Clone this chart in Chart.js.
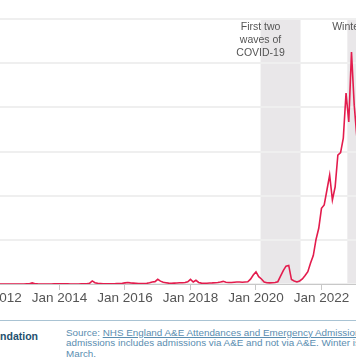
<!DOCTYPE html>
<html><head><meta charset="utf-8">
<script src="https://cdn.jsdelivr.net/npm/chart.js@4/dist/chart.umd.min.js"></script>
<style>
html,body{margin:0;padding:0;background:#fff;width:356px;height:364px;overflow:hidden;position:relative;font-family:"Liberation Sans",Arial,sans-serif}
#wrap{position:absolute;left:-60px;top:0;width:460px;height:310px}
#sep{position:absolute;left:0;top:320px;width:356px;height:1px;background:#a9c3d3}
#brand{position:absolute;right:318px;top:330px;font-weight:bold;font-size:10.5px;line-height:12px;color:#23506e;white-space:nowrap}
#src{position:absolute;left:66px;top:327.5px;font-size:9.85px;line-height:10.5px;color:#5a8db0;white-space:nowrap}
#src u{text-decoration:underline}
</style></head>
<body>
<div id="wrap"><canvas id="c" width="460" height="310"></canvas></div>
<div id="sep"></div>
<div id="brand">The Health Foundation</div>
<div id="src">Source: <u>NHS England A&amp;E Attendances and Emergency Admissions</u>. Emergency<br>admissions includes admissions via A&amp;E and not via A&amp;E. Winter is defined as November to<br>March.</div>
<script>
// Monthly series, Jan 2011 – Mar 2023
const startYear = 2011;
const v2011 = [10, 5, 10, 5, 0, 0, 0, 0, 0, 0, 5, 10];
const v2012 = [20, 10, 15, 5, 5, 0, 0, 0, 0, 5, 10, 15];
const v2013 = [40, 60, 250, 60, 20, 10, 5, 5, 5, 10, 20, 40];
const v2014 = [30, 40, 40, 20, 10, 5, 10, 10, 20, 40, 60, 150];
const v2015 = [700, 300, 150, 100, 40, 20, 40, 50, 70, 100, 90, 160];
const v2016 = [250, 330, 250, 200, 150, 100, 90, 110, 150, 280, 450, 530];
const v2017 = [1050, 650, 380, 300, 200, 150, 200, 230, 270, 300, 350, 500];
const v2018 = [1060, 450, 840, 350, 200, 150, 180, 220, 250, 300, 350, 450];
const v2019 = [600, 400, 350, 350, 400, 450, 450, 400, 450, 500, 1100, 2050];
const v2020 = [2750, 1650, 1130, 450, 300, 250, 300, 350, 520, 1770, 3050, 4050];
const v2021 = [4200, 1000, 680, 450, 680, 1130, 1920, 2790, 4750, 6450, 10080, 12610];
const v2022 = [17140, 17890, 21280, 24680, 19020, 21960, 29200, 29730, 33050, 43240, 36680, 52500];
const v2023 = [40500, 33000, 37000];
const values = [].concat(v2011, v2012, v2013, v2014, v2015, v2016, v2017, v2018, v2019, v2020, v2021, v2022, v2023);

const monthLabels = values.map((_, i) => {
  const y = startYear + Math.floor(i / 12), m = (i % 12) + 1;
  return y + '-' + String(m).padStart(2, '0');
});
const toYear = s => { const [y, m] = s.split('-').map(Number); return y + (m - 1) / 12; };

const tickYears = [2012, 2014, 2016, 2018, 2020, 2022];
const tickLabels = ['Jan 2012', 'Jan 2014', 'Jan 2016', 'Jan 2018', 'Jan 2020', 'Jan 2022'];

const shadeStarts = [2020.14, 2022.79];
const shadeEnds = [2021.36, 2023.21];
const shadeTexts = [['First two', 'waves of', 'COVID-19'], ['Winter']];

const points = values.map((v, i) => ({ x: toYear(monthLabels[i]), y: v }));

const shadePlugin = {
  id: 'shade',
  beforeDraw(chart) {
    const { ctx, chartArea: a, scales: { x } } = chart;
    ctx.save();
    ctx.fillStyle = '#e9e7e9';
    shadeStarts.forEach((s, i) => {
      const x0 = x.getPixelForValue(s), x1 = x.getPixelForValue(shadeEnds[i]);
      ctx.fillRect(x0, a.top, x1 - x0, a.bottom - a.top);
    });
    ctx.restore();
  },
  afterDatasetsDraw(chart) {
    const { ctx, chartArea: a, scales: { x } } = chart;
    ctx.save();
    ctx.fillStyle = '#555';
    ctx.font = '10.5px "Liberation Sans", Arial, sans-serif';
    ctx.textAlign = 'center';
    ctx.textBaseline = 'middle';
    shadeStarts.forEach((s, i) => {
      const cx = x.getPixelForValue(s);
      shadeTexts[i].forEach((t, j) => ctx.fillText(t, cx, a.top + 8.5 + j * 13));
    });
    ctx.restore();
  }
};

new Chart(document.getElementById('c'), {
  type: 'line',
  data: {
    datasets: [{
      data: points,
      borderColor: '#e31c4d',
      borderWidth: 1.6,
      pointRadius: 0,
      tension: 0,
      fill: false
    }]
  },
  options: {
    responsive: false,
    animation: false,
    devicePixelRatio: 1,
    layout: { padding: { left: 21.25, right: 29.4, top: 19, bottom: 0 } },
    plugins: { legend: { display: false }, tooltip: { enabled: false } },
    scales: {
      x: {
        type: 'linear',
        min: 2011,
        max: 2023.5,
        afterBuildTicks: s => { s.ticks = tickYears.map(v => ({ value: v })); },
        afterFit: s => { s.height = 26; },
        ticks: {
          autoSkip: false,
          maxRotation: 0,
          padding: 0,
          color: '#555',
          font: { family: '"Liberation Sans", Arial, sans-serif', size: 13.5 },
          callback: v => tickLabels[tickYears.indexOf(v)]
        },
        grid: { drawOnChartArea: false, drawTicks: true, tickLength: 6, color: '#c8c8c8' },
        border: { display: true, color: '#c8c8c8' }
      },
      y: {
        min: 0,
        max: 60000,
        ticks: { display: false, stepSize: 10000 },
        grid: { color: '#efefef', lineWidth: 2, drawTicks: false },
        border: { display: false }
      }
    }
  },
  plugins: [shadePlugin]
});
</script>
</body></html>
